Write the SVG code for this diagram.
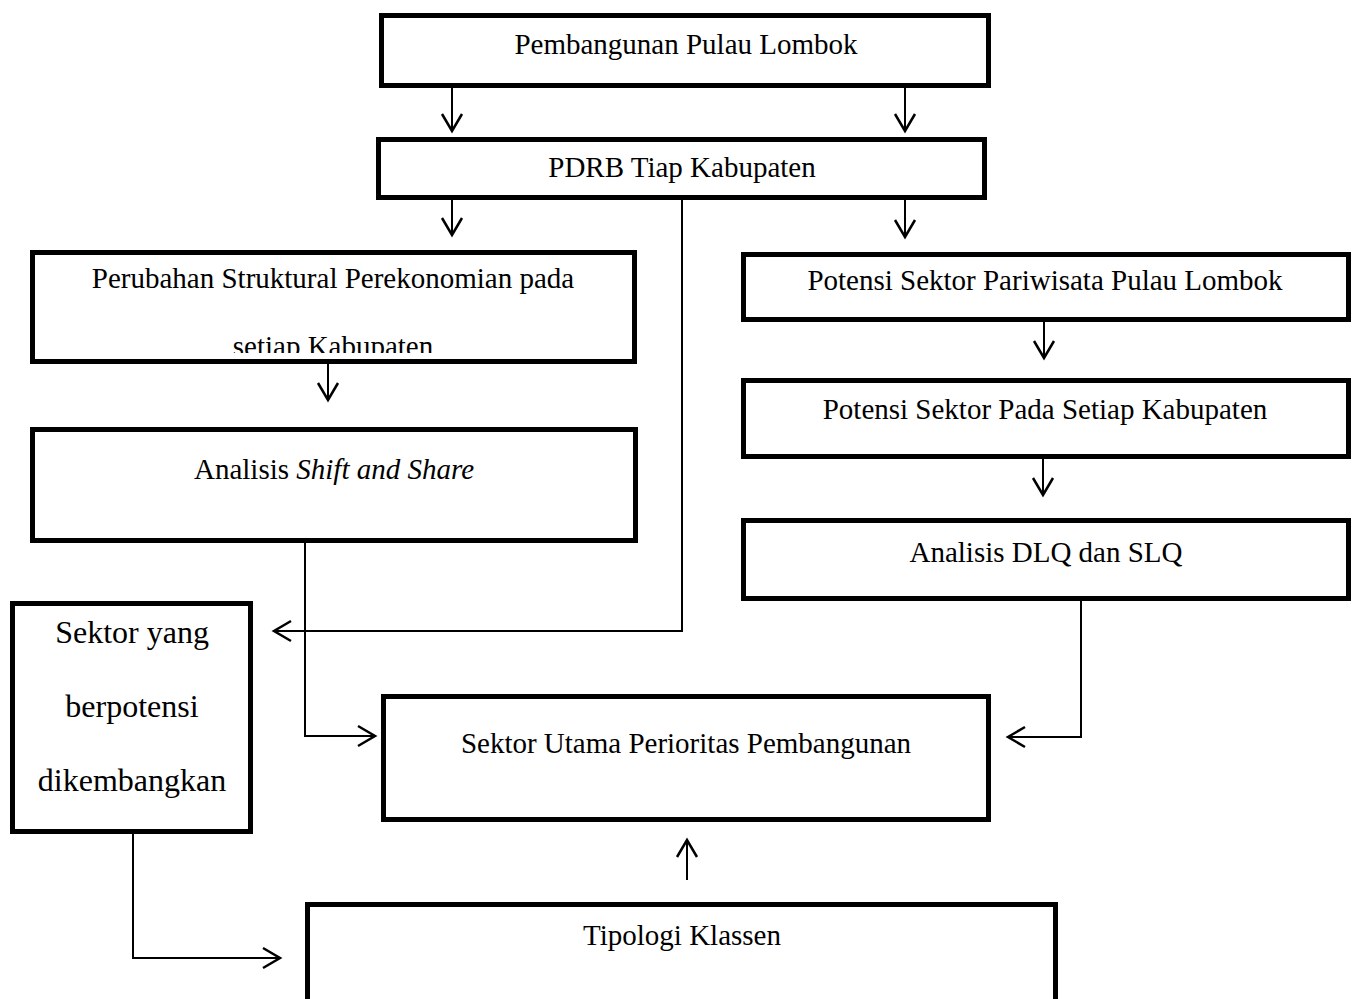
<svg xmlns="http://www.w3.org/2000/svg" width="1357" height="999" viewBox="0 0 1357 999">
<style>
.box{fill:#fff;stroke:#000;stroke-width:5}
.t{font-family:"Liberation Serif","Times New Roman",serif;font-size:29px;fill:#000;text-anchor:middle}
.tb{font-size:32px}
.c{fill:none;stroke:#000;stroke-width:2}
</style>
<defs>
<marker id="ah" markerUnits="userSpaceOnUse" markerWidth="24" markerHeight="24" refX="20" refY="12" orient="auto" viewBox="0 0 24 24">
<path d="M3,2 L20,12 L3,22" fill="none" stroke="#000" stroke-width="2.5"/>
</marker>
<clipPath id="clip3"><rect x="35" y="255" width="597" height="98"/></clipPath>
</defs>
<rect width="1357" height="999" fill="#fff"/>
<g id="n1"><rect class="box" x="381.5" y="15.5" width="607" height="70"/><text class="t" x="686" y="54">Pembangunan Pulau Lombok</text></g>
<g id="n2"><rect class="box" x="378.5" y="139.5" width="606" height="58"/><text class="t" x="682" y="177">PDRB Tiap Kabupaten</text></g>
<g id="n3"><rect class="box" x="32.5" y="252.5" width="602" height="109"/><text class="t" x="333" y="288">Perubahan Struktural Perekonomian pada</text><text class="t" x="333" y="356" clip-path="url(#clip3)">setiap Kabupaten</text></g>
<g id="n4"><rect class="box" x="32.5" y="429.5" width="603" height="111"/><text class="t" x="334" y="479">Analisis <tspan font-style="italic">Shift and Share</tspan></text></g>
<g id="n5"><rect class="box" x="12.5" y="603.5" width="238" height="228"/><text class="t tb" x="132" y="643">Sektor yang</text><text class="t tb" x="132" y="717">berpotensi</text><text class="t tb" x="132" y="791">dikembangkan</text></g>
<g id="n6"><rect class="box" x="383.5" y="696.5" width="605" height="123"/><text class="t" x="686" y="753">Sektor Utama Perioritas Pembangunan</text></g>
<g id="n7"><rect class="box" x="307.5" y="904.5" width="748" height="120"/><text class="t" x="682" y="945">Tipologi Klassen</text></g>
<g id="n8"><rect class="box" x="743.5" y="254.5" width="605" height="65"/><text class="t" x="1045" y="290">Potensi Sektor Pariwisata Pulau Lombok</text></g>
<g id="n9"><rect class="box" x="743.5" y="380.5" width="605" height="76"/><text class="t" x="1045" y="419">Potensi Sektor Pada Setiap Kabupaten</text></g>
<g id="n10"><rect class="box" x="743.5" y="520.5" width="605" height="78"/><text class="t" x="1046" y="562">Analisis DLQ dan SLQ</text></g>
<g id="connectors">
<path class="c" d="M452,88 V131" marker-end="url(#ah)"/>
<path class="c" d="M905,88 V131" marker-end="url(#ah)"/>
<path class="c" d="M452,200 V235" marker-end="url(#ah)"/>
<path class="c" d="M905,200 V237" marker-end="url(#ah)"/>
<path class="c" d="M682,200 V631 H274" marker-end="url(#ah)"/>
<path class="c" d="M328,364 V400" marker-end="url(#ah)"/>
<path class="c" d="M305,543 V736 H375" marker-end="url(#ah)"/>
<path class="c" d="M133,834 V958 H280" marker-end="url(#ah)"/>
<path class="c" d="M687,880 V840" marker-end="url(#ah)"/>
<path class="c" d="M1044,322 V358" marker-end="url(#ah)"/>
<path class="c" d="M1043,459 V495" marker-end="url(#ah)"/>
<path class="c" d="M1081,601 V737 H1008" marker-end="url(#ah)"/>
</g>
</svg>
